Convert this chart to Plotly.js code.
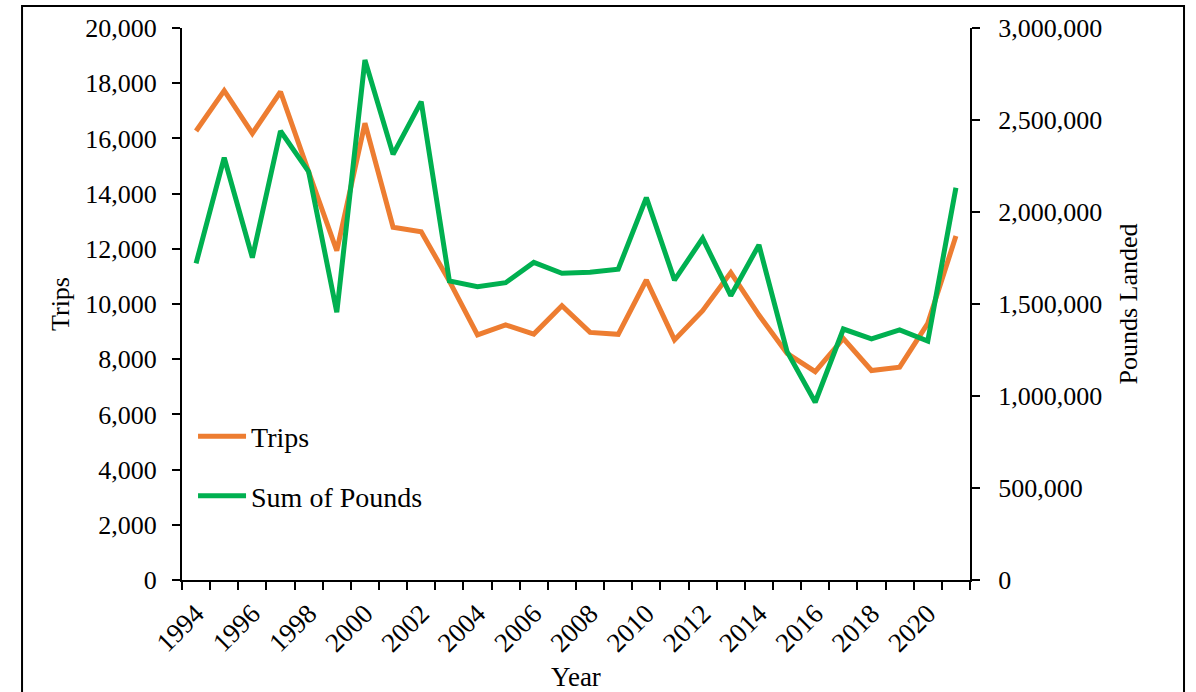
<!DOCTYPE html>
<html>
<head>
<meta charset="utf-8">
<script src="https://cdn.plot.ly/plotly-3.0.1.min.js"></script>
<style>
  html, body { margin: 0; padding: 0; background: #ffffff; }
  #chart { width: 1196px; height: 692px; }
</style>
</head>
<body>
<div id="chart"></div>
<script>
const years = [1994, 1995, 1996, 1997, 1998, 1999, 2000, 2001, 2002, 2003, 2004, 2005, 2006, 2007,
               2008, 2009, 2010, 2011, 2012, 2013, 2014, 2015, 2016, 2017, 2018, 2019, 2020, 2021];
const trips = [16270, 17730, 16180, 17690, 14790, 11930, 16550, 12780, 12620, 10830, 8880, 9240, 8910, 9940,
               8970, 8900, 10870, 8700, 9760, 11140, 9600, 8210, 7550, 8750, 7590, 7710, 9300, 12460];
const pounds = [1721000, 2295000, 1752000, 2440000, 2219000, 1455000, 2826000, 2313000, 2600000, 1625000,
                1594000, 1616000, 1726000, 1667000, 1672000, 1689000, 2078000, 1630000, 1857000, 1545000,
                1821000, 1241000, 966000, 1364000, 1310000, 1359000, 1299000, 2132000];
const yearTickLabels = ["1994", "1996", "1998", "2000", "2002", "2004", "2006", "2008", "2010", "2012",
                        "2014", "2016", "2018", "2020"];
const tripsTicks = [0, 2000, 4000, 6000, 8000, 10000, 12000, 14000, 16000, 18000, 20000];
const poundsTicks = [0, 500000, 1000000, 1500000, 2000000, 2500000, 3000000];
const seriesNames = ["Trips", "Sum of Pounds"];
const seriesColors = ["#ED7D31", "#00B050"];

const FONT = "Liberation Serif, Times New Roman, serif";
const yearTickVals = yearTickLabels.map(Number);
const bandEdges = years.map(y => y - 0.5).concat([years[years.length - 1] + 0.5]);

const traces = [
  {
    x: years, y: trips, name: seriesNames[0], type: "scatter", mode: "lines",
    line: { color: seriesColors[0], width: 5 }, yaxis: "y", legendgroup: "a"
  },
  {
    x: years, y: pounds, name: seriesNames[1], type: "scatter", mode: "lines",
    line: { color: seriesColors[1], width: 5 }, yaxis: "y2", legendgroup: "b"
  }
];

const layout = {
  width: 1196, height: 692,
  margin: { l: 182, r: 226, t: 28, b: 112, pad: 0 },
  paper_bgcolor: "#ffffff", plot_bgcolor: "#ffffff",
  font: { family: FONT, color: "#000000", size: 26 },
  showlegend: true,
  legend: {
    x: 0.014, y: 0.305, xanchor: "left", yanchor: "top",
    bgcolor: "rgba(0,0,0,0)", borderwidth: 0, itemwidth: 48,
    font: { family: FONT, size: 28, color: "#000000" },
    tracegroupgap: 20, traceorder: "grouped"
  },
  xaxis: {
    range: [bandEdges[0], bandEdges[bandEdges.length - 1]],
    tickmode: "array", tickvals: yearTickVals, ticktext: yearTickLabels,
    tickangle: -45, ticks: "", showgrid: false, zeroline: false,
    showline: true, linecolor: "#000000", linewidth: 2, ticklabelstandoff: 5,
    tickfont: { family: FONT, size: 27, color: "#000000" },
    minor: { tickmode: "array", tickvals: bandEdges, ticks: "outside", ticklen: 8, tickwidth: 2, tickcolor: "#000000", showgrid: false },
    title: { text: "Year", font: { family: FONT, size: 27, color: "#000000" }, standoff: 12 },
    fixedrange: true
  },
  yaxis: {
    range: [0, 20000], tickmode: "array", tickvals: tripsTicks, tickformat: ",d",
    ticks: "outside", ticklen: 8, tickwidth: 2, tickcolor: "#000000",
    showline: true, linecolor: "#000000", linewidth: 2,
    showgrid: false, zeroline: false, ticklabelstandoff: 10,
    tickfont: { family: FONT, size: 26, color: "#000000" },
    title: { text: "Trips", font: { family: FONT, size: 26, color: "#000000" }, standoff: 8 },
    fixedrange: true
  },
  yaxis2: {
    overlaying: "y", side: "right",
    range: [0, 3000000], tickmode: "array", tickvals: poundsTicks, tickformat: ",d",
    ticks: "outside", ticklen: 8, tickwidth: 2, tickcolor: "#000000",
    showline: true, linecolor: "#000000", linewidth: 2,
    showgrid: false, zeroline: false, ticklabelstandoff: 13,
    tickfont: { family: FONT, size: 26, color: "#000000" },
    title: { text: "Pounds Landed", font: { family: FONT, size: 26, color: "#000000" }, standoff: 18 },
    fixedrange: true
  },
  shapes: [
    {
      type: "rect", xref: "paper", yref: "paper",
      x0: -0.203, x1: 1.2716, y0: -0.23, y1: 1.04,
      line: { color: "#000000", width: 2 }, fillcolor: "rgba(0,0,0,0)", layer: "below"
    }
  ]
};

Plotly.newPlot("chart", traces, layout, { displayModeBar: false, staticPlot: true });
</script>
</body>
</html>
